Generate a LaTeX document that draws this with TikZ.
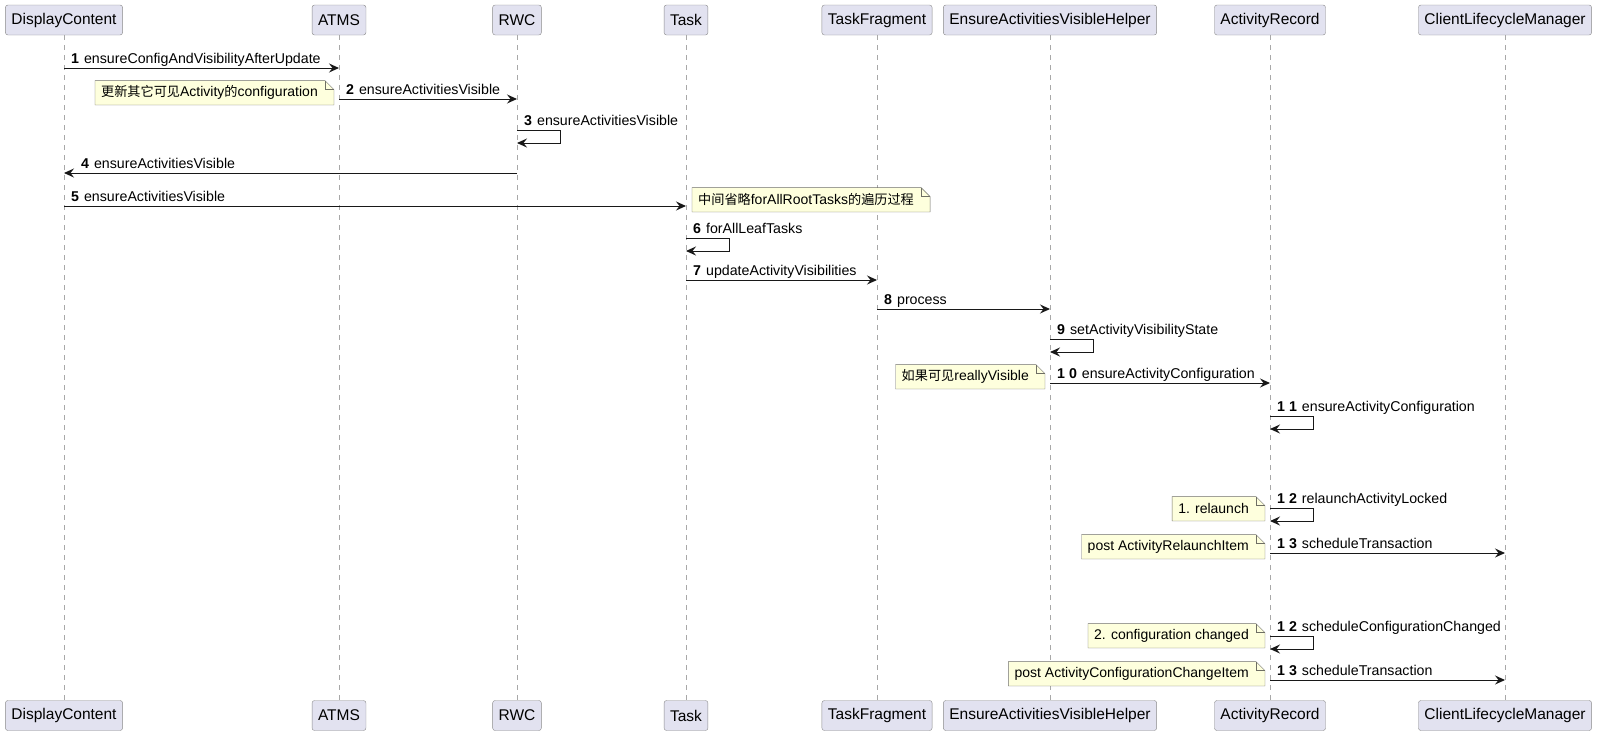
\documentclass[tikz,border=0pt]{standalone}
\usepackage{fontspec}
\setmainfont{Liberation Sans}
\newfontfamily\cjk[Scale=0.94]{Noto Sans CJK SC}
\usetikzlibrary{arrows.meta}
\definecolor{partfill}{HTML}{E2E2F0}
\definecolor{partline}{HTML}{8A8A8A}
\definecolor{lifegray}{HTML}{A8A8A8}
\definecolor{notefill}{HTML}{FEFFDD}
\definecolor{noteline}{HTML}{6E6E64}
\definecolor{msgline}{HTML}{181818}

\begin{document}
\begin{tikzpicture}[x=1pt,y=-1pt,
	part/.style={rectangle,draw=partline,fill=partfill,rounded corners=2.5pt,minimum height=30pt,inner xsep=6pt,inner ysep=0pt,font=\fontsize{15.5}{18}\selectfont},
	life/.style={draw=lifegray,line width=1pt,dash pattern=on 5pt off 5pt},
	msg/.style={draw=msgline,line width=1pt,-{Stealth[length=10pt,width=9pt,inset=3.5pt]}},
	msg label/.style={anchor=base west,inner sep=0pt,font=\fontsize{14.2}{16}\selectfont},
	notebox/.style={rectangle,fill=notefill,minimum height=24pt,inner xsep=6pt,inner ysep=0pt,font=\fontsize{14}{16}\selectfont},
	noteL/.style={anchor=south east,xshift=-5pt},
	noteR/.style={anchor=south west,xshift=6pt}
]
	\useasboundingbox (0,0) rectangle (1597,736);

	\def \fold {9pt};

	% participants and lifelines
	\foreach \id/\x/\name in {dc/64/DisplayContent,atms/339/ATMS,rwc/517/RWC,task/686/Task,frag/877/TaskFragment,helper/1050/EnsureActivitiesVisibleHelper,ar/1270/ActivityRecord,clm/1505/ClientLifecycleManager} {
		\node[part] (\id) at (\x,20) {\name};
		\node[part] (\id-end) at (\x,715.5) {\name};
		\draw[life] (\id) -- (\id-end);
	}

	% notes
	\foreach \id/\pos/\y/\txt in {
		atms/L/105/{\cjk 更新其它可见}Activity{\cjk 的}configuration,
		task/R/212/{\cjk 中间省略}forAllRootTasks{\cjk 的遍历过程},
		helper/L/389/{\cjk 如果可见}reallyVisible,
		ar/L/521/1. relaunch,
		ar/L/559/post ActivityRelaunchItem,
		ar/L/648/2. configuration changed,
		ar/L/686/post ActivityConfigurationChangeItem} {
		\node[notebox,note\pos] (note\y) at (\id |- 0,\y) {\txt\kern10pt};
		\fill[white] ([xshift=-\fold]note\y.north east) -- (note\y.north east) -- ([yshift=-\fold]note\y.north east) -- cycle;
		\draw[noteline] (note\y.south west) -- (note\y.north west) -- ([xshift=-\fold]note\y.north east) -- ([yshift=-\fold]note\y.north east) -- (note\y.south east) -- cycle;
		\draw[noteline] ([xshift=-\fold]note\y.north east) |- ([yshift=-\fold]note\y.north east);
	}

	% messages left to right
	\foreach \from/\to/\y/\num/\txt in {
		dc/atms/68/1/ensureConfigAndVisibilityAfterUpdate,
		atms/rwc/99/2/ensureActivitiesVisible,
		dc/task/206/5/ensureActivitiesVisible,
		task/frag/280/7/updateActivityVisibilities,
		frag/helper/309/8/process,
		helper/ar/383/1 0/ensureActivityConfiguration,
		ar/clm/553/1 3/scheduleTransaction,
		ar/clm/680/1 3/scheduleTransaction} {
		\draw[msg] (\from |- 0,\y) -- (\to |- 0,\y);
		\node[msg label,xshift=7pt,yshift=5pt] (msg\y) at (\from |- 0,\y) {\textbf{\num}\hspace{5pt}\txt};
	}

	% message right to left
	\draw[msg] (rwc |- 0,173) -- (dc |- 0,173);
	\node[msg label,xshift=17pt,yshift=5pt] (msg173) at (dc |- 0,173) {\textbf{4}\hspace{5pt}ensureActivitiesVisible};

	% self messages
	\foreach \id/\y/\num/\txt in {
		rwc/130/3/ensureActivitiesVisible,
		task/238/6/forAllLeafTasks,
		helper/339/9/setActivityVisibilityState,
		ar/416/1 1/ensureActivityConfiguration,
		ar/508/1 2/relaunchActivityLocked,
		ar/636/1 2/scheduleConfigurationChanged} {
		\draw[msg] (\id |- 0,\y) -- ++(43,0) -- ++(0,13) -- ++(-43,0);
		\node[msg label,xshift=7pt,yshift=5pt] (self\y) at (\id |- 0,\y) {\textbf{\num}\hspace{5pt}\txt};
	}
\end{tikzpicture}
\end{document}
